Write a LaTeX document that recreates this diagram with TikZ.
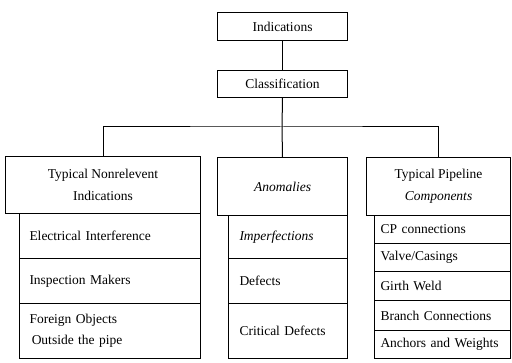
\documentclass[tikz,border=0pt]{standalone}
\usepackage{fontspec}
\setmainfont{Liberation Serif}
\begin{document}
\begin{tikzpicture}[x=1pt,y=-1pt,
  line width=1pt,
  cell/.style={draw, line width=1pt, anchor=north west, inner ysep=0pt,
    font=\fontsize{13.5}{15.5}\selectfont},
  head/.style={cell, align=center},
  itemL/.style={cell, align=left, inner xsep=10pt, text width=161pt},
  itemM/.style={cell, align=left, inner xsep=11pt, text width=97pt},
  itemR/.style={cell, align=left, inner xsep=6pt, text width=124pt}]
\useasboundingbox (0,0) rectangle (512,363);
% top
\node[head, minimum width=130pt, minimum height=28pt] (ind) at (217,12) {Indications};
\node[head, minimum width=130pt, minimum height=27pt] (cls) at (217,70) {Classification};
\coordinate (bus) at (282,127);
% headers
\node[head, minimum width=195pt, minimum height=57pt] (lh) at (5,156) {Typical Nonrelevent\\[7pt]Indications};
\node[head, minimum width=130pt, minimum height=58pt] (mh) at (217,157) {\itshape Anomalies};
\node[head, minimum width=144pt, minimum height=58pt] (rh) at (366,157) {Typical Pipeline\\[7pt]\itshape Components};
% left items
\node[itemL, minimum height=45pt] (l1) at (19,213) {Electrical Interference};
\node[itemL, minimum height=45pt] (l2) at (19,258) {Inspection Makers};
\node[itemL, minimum height=55pt] (l3) at (19,303) {Foreign Objects\\[5pt]\,Outside the pipe};
% middle items
\node[itemM, minimum height=43pt] (m1) at (228,215) {\itshape Imperfections};
\node[itemM, minimum height=45pt] (m2) at (228,258) {Defects};
\node[itemM, minimum height=55pt] (m3) at (228,303) {Critical Defects};
% right items
\node[itemR, minimum height=28pt] (r1) at (374,215) {CP connections};
\node[itemR, minimum height=28pt] (r2) at (374,243) {Valve/Casings};
\node[itemR, minimum height=29pt] (r3) at (374,271) {Girth Weld};
\node[itemR, minimum height=30pt] (r4) at (374,300) {Branch Connections};
\node[itemR, minimum height=28pt] (r5) at (374,330) {Anchors and Weights};
% connectors
\draw (ind) -- (cls);
\draw (cls.south) -- (bus);
\draw (lh.north) |- (bus) -| (rh.north);
\draw (bus) -- (mh.north);
\end{tikzpicture}
\end{document}
